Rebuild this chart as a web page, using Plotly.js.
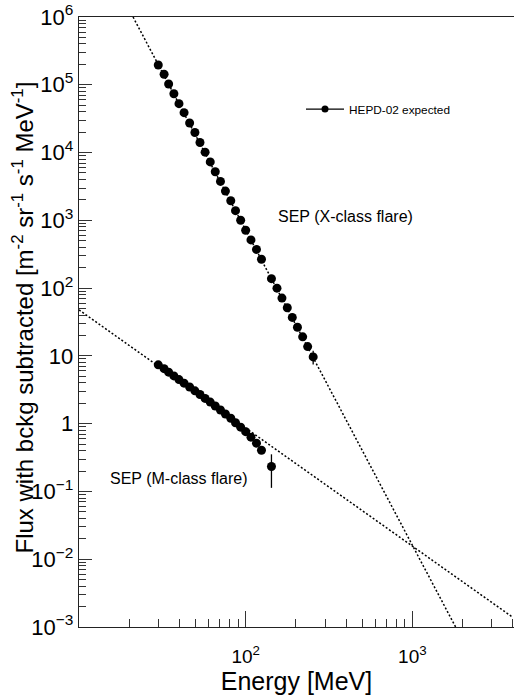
<!DOCTYPE html>
<html>
<head>
<meta charset="utf-8">
<script src="https://cdn.plot.ly/plotly-3.0.1.min.js"></script>
<style>html,body{margin:0;padding:0;background:#fff}#chart{width:514px;height:697px}</style>
</head>
<body>
<div id="chart"></div>
<script>
// Energy bins [MeV] (shared by both SEP spectra)
var energyX = [29.9, 32.4, 34.5, 37.1, 39.8, 42.7, 46.1, 49.6, 53.2, 57.1, 61.3, 65.7, 70.6, 75.6, 81.4, 86.9, 93.3, 100, 107.6, 116.1, 124.4, 142.8, 154.1, 165.1, 177.7, 190.4, 204.5, 219.8, 235.5, 254.1];
// X-class flare SEP flux
var fluxX = [195900, 142900, 102800, 73600, 52600, 38800, 27300, 19800, 14090, 10140, 7270, 5210, 3750, 2700, 1946, 1390, 1003, 714, 514, 372, 267, 137.7, 99.8, 71.3, 51.4, 37.0, 26.5, 19.1, 13.7, 9.66];
var errX = [0,0,0,0,0,0,0,0,0,0,0,0,0,0,0,0,0,0,0,0,0,0,0,0,0,0,0,0,0,2.2];

var energyM = [29.9, 32.4, 34.5, 37.1, 39.8, 42.7, 46.1, 49.6, 53.2, 57.1, 61.3, 65.7, 70.6, 75.6, 81.4, 86.9, 93.3, 100, 107.6, 116.1, 124.4, 142.8];
// M-class flare SEP flux
var fluxM = [7.37, 6.48, 5.75, 5.07, 4.47, 3.96, 3.47, 3.05, 2.69, 2.36, 2.08, 1.82, 1.59, 1.39, 1.20, 1.03, 0.888, 0.762, 0.632, 0.516, 0.406, 0.233];
var errM = [0,0,0,0,0,0,0,0,0,0,0,0,0,0,0,0,0,0,0,0,0,0.12];

// Power-law fit lines (end points)
var fitXE = [21.1, 1818];
var fitXF = [1e6, 1e-3];
var fitME = [10, 3942];
var fitMF = [47.7, 1.43e-3];

// Tick labels
var yTickVals = [1e6, 1e5, 1e4, 1e3, 1e2, 10, 1, 0.1, 0.01, 0.001];
var yTickText = ['10<sup>6</sup>', '10<sup>5</sup>', '10<sup>4</sup>', '10<sup>3</sup>', '10<sup>2</sup>', '10', '1', '10<sup>\u22121</sup>', '10<sup>\u22122</sup>', '10<sup>\u22123</sup>'];
var xTickVals = [100, 1000];
var xTickText = ['10<sup>2</sup>', '10<sup>3</sup>'];

function minorVals(lo, hi) {
  var v = [];
  for (var e = lo; e < hi; e++) {
    for (var d = 2; d <= 9; d++) v.push(d * Math.pow(10, e));
  }
  return v;
}

var FONT = 'Liberation Sans, Arial, Helvetica, sans-serif';
var dotLine = {color: '#000', width: 1.5, dash: '2px,2px'};

var traces = [
  {x: fitXE, y: fitXF, mode: 'lines', line: dotLine, showlegend: false, hoverinfo: 'skip'},
  {x: fitME, y: fitMF, mode: 'lines', line: dotLine, showlegend: false, hoverinfo: 'skip'},
  {x: energyX, y: fluxX, mode: 'markers', marker: {color: '#000', size: 9},
   error_y: {type: 'data', array: errX, visible: true, color: '#000', thickness: 1.3, width: 0},
   showlegend: false},
  {x: energyM, y: fluxM, mode: 'markers', marker: {color: '#000', size: 9},
   error_y: {type: 'data', array: errM, visible: true, color: '#000', thickness: 1.3, width: 0},
   showlegend: false},
  {x: [null], y: [null], mode: 'lines+markers', name: 'HEPD-02 expected',
   line: {color: '#000', width: 1.3}, marker: {color: '#000', size: 7}, showlegend: true}
];

var layout = {
  width: 514, height: 697,
  margin: {l: 79, r: 0, t: 17, b: 70, pad: 0},
  paper_bgcolor: '#fff', plot_bgcolor: '#fff',
  font: {family: FONT, color: '#000'},
  showlegend: true,
  legend: {x: (301 - 79) / 435, y: 0.849, xanchor: 'left', yanchor: 'middle', bgcolor: 'rgba(0,0,0,0)',
           borderwidth: 0, font: {size: 11.8, family: FONT}, itemwidth: 38},
  xaxis: {
    type: 'log', range: [1, 3.61], showgrid: false, zeroline: false,
    showline: true, linecolor: '#222', linewidth: 1.3, mirror: true,
    ticks: 'inside', ticklen: 16, tickwidth: 1, tickcolor: '#333',
    tickmode: 'array', tickvals: xTickVals, ticktext: xTickText,
    tickfont: {size: 19, family: FONT}, ticklabelstandoff: 12,
    minor: {tickmode: 'array', tickvals: minorVals(1, 4), ticks: 'inside', ticklen: 8, tickwidth: 1, tickcolor: '#333', showgrid: false},
    title: {text: 'Energy [MeV]', font: {size: 25, family: FONT}, standoff: 3}
  },
  yaxis: {
    type: 'log', range: [-3, 6], showgrid: false, zeroline: false,
    showline: true, linecolor: '#222', linewidth: 1.3,
    ticks: 'inside', ticklen: 12.5, tickwidth: 1, tickcolor: '#333',
    tickmode: 'array', tickvals: yTickVals, ticktext: yTickText,
    tickfont: {size: 22, family: FONT},
    minor: {tickmode: 'array', tickvals: minorVals(-3, 6), ticks: 'inside', ticklen: 6.5, tickwidth: 1, tickcolor: '#333', showgrid: false}
  },
  annotations: [
    {text: 'Flux with bckg subtracted [m<sup>-2</sup> sr<sup>-1</sup> s<sup>-1</sup> MeV<sup>-1</sup>]',
     xref: 'paper', yref: 'paper', x: (22 - 79) / 435, y: (627 - 317.5) / 610, textangle: -90,
     xanchor: 'center', yanchor: 'middle', showarrow: false, font: {size: 24, family: FONT}},
    {text: 'SEP (X-class flare)', xref: 'paper', yref: 'paper', x: (345 - 79) / 435, y: (627 - 216) / 610,
     xanchor: 'center', yanchor: 'middle', showarrow: false, font: {size: 16, family: FONT}},
    {text: 'SEP (M-class flare)', xref: 'paper', yref: 'paper', x: (179 - 79) / 435, y: (627 - 478) / 610,
     xanchor: 'center', yanchor: 'middle', showarrow: false, font: {size: 16, family: FONT}}
  ]
};

Plotly.newPlot('chart', traces, layout, {staticPlot: true, displayModeBar: false});
</script>
</body>
</html>
